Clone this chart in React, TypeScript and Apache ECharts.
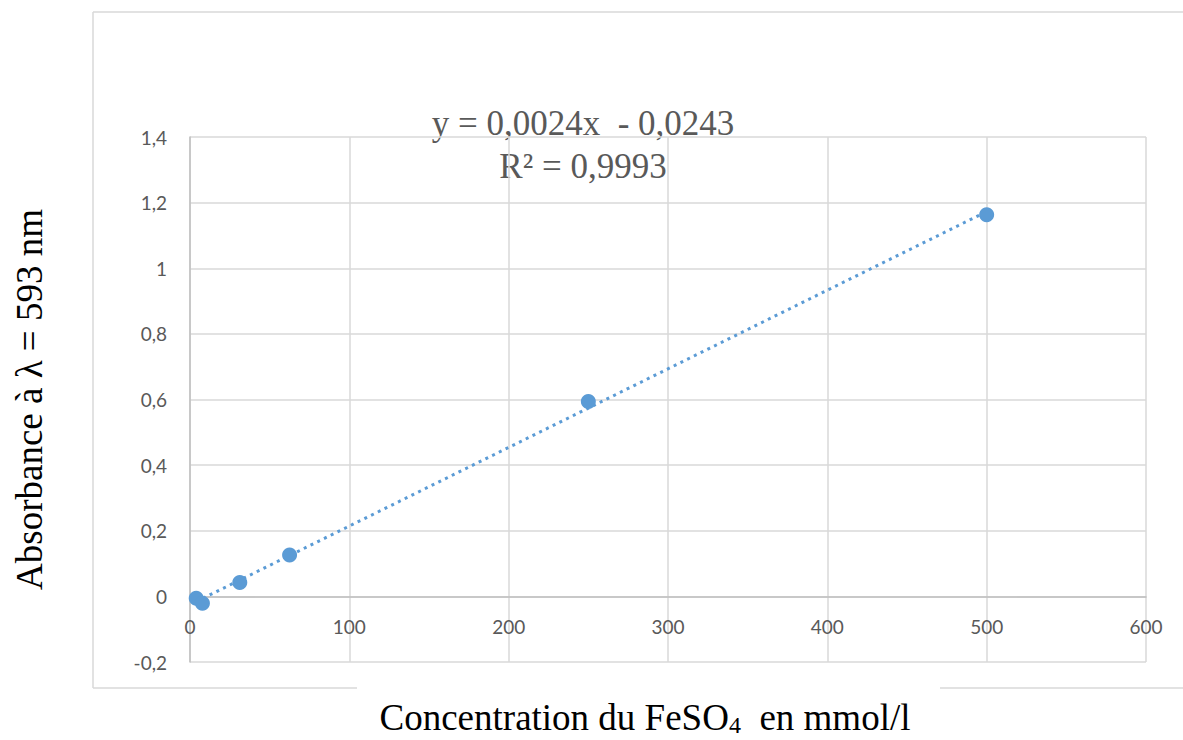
import React, { useEffect, useRef } from "react";
import * as echarts from "echarts";

// Concentration du FeSO4 (mmol/l)
const concentrations = [3.9, 7.8, 31.25, 62.5, 250, 500];
// Absorbance at 593 nm
const absorbances = [-0.006, -0.021, 0.042, 0.126, 0.594, 1.163];

const xTicks = { min: 0, max: 600, interval: 100 };
const yTicks = { min: -0.2, max: 1.4, interval: 0.2 };

const equationText = "y = 0,0024x  - 0,0243";
const r2Text = "R² = 0,9993";
const xTitle = "Concentration du FeSO";
const xTitleSub = "4";
const xTitleEnd = "  en mmol/l";
const yTitle = "Absorbance à λ = 593 nm";

function linearFit(xs: number[], ys: number[]) {
  const n = xs.length;
  const mx = xs.reduce((a, b) => a + b, 0) / n;
  const my = ys.reduce((a, b) => a + b, 0) / n;
  let sxy = 0;
  let sxx = 0;
  for (let i = 0; i < n; i++) {
    sxy += (xs[i] - mx) * (ys[i] - my);
    sxx += (xs[i] - mx) * (xs[i] - mx);
  }
  const slope = sxy / sxx;
  return { slope, intercept: my - slope * mx };
}

export default function App() {
  const ref = useRef<HTMLDivElement>(null);

  useEffect(() => {
    if (!ref.current) return;
    const chart = echarts.init(ref.current, undefined, { renderer: "svg" });
    const fit = linearFit(concentrations, absorbances);
    const xMin = Math.min(...concentrations);
    const xMax = Math.max(...concentrations);
    const trend = [
      [xMin, fit.intercept + fit.slope * xMin],
      [xMax, fit.intercept + fit.slope * xMax],
    ];
    const points = concentrations.map((c, i) => [c, absorbances[i]]);
    const grid = "#d9d9d9";
    const axis = "#bfbfbf";
    const serif = "'Liberation Serif', 'Times New Roman', serif";
    const tickFont = {
      color: "#595959",
      fontFamily: "Lato, 'Noto Sans', sans-serif",
      fontSize: 19,
    };
    const gridTop = 137;
    const gridBottom = 78;
    const plotHeight = 740 - gridTop - gridBottom;
    // shift the x axis up so that it crosses the y axis at 0
    const zeroOffset = (plotHeight * (0 - yTicks.min)) / (yTicks.max - yTicks.min);

    chart.setOption({
      animation: false,
      backgroundColor: "#ffffff",
      grid: { left: 190, right: 37, top: gridTop, bottom: gridBottom, containLabel: false },
      xAxis: {
        type: "value",
        min: xTicks.min,
        max: xTicks.max,
        interval: xTicks.interval,
        offset: -zeroOffset,
        axisLine: { show: true, onZero: false, lineStyle: { color: axis, width: 1.5 } },
        axisTick: { show: false },
        axisLabel: { ...tickFont, margin: 21 },
        splitLine: { show: true, lineStyle: { color: grid, width: 1.5 } },
      },
      yAxis: {
        type: "value",
        min: yTicks.min,
        max: yTicks.max,
        interval: yTicks.interval,
        axisLine: { show: true, onZero: false, lineStyle: { color: axis, width: 1.5 } },
        axisTick: { show: false },
        axisLabel: {
          ...tickFont,
          margin: 23,
          formatter: (v: number) => String(+v.toFixed(1)).replace(".", ","),
        },
        splitLine: { show: true, lineStyle: { color: grid, width: 1.5 } },
        name: yTitle,
        nameLocation: "middle",
        nameRotate: 90,
        nameGap: 161,
        nameTextStyle: {
          color: "#000000",
          fontFamily: serif,
          fontSize: 37,
          verticalAlign: "middle",
        },
      },
      graphic: [
        {
          type: "line",
          shape: { x1: 93, y1: 12, x2: 1183, y2: 12 },
          style: { stroke: grid, lineWidth: 1.5 },
          silent: true,
        },
        {
          type: "line",
          shape: { x1: 93, y1: 12, x2: 93, y2: 688 },
          style: { stroke: grid, lineWidth: 1.5 },
          silent: true,
        },
        {
          type: "line",
          shape: { x1: 93, y1: 688, x2: 357, y2: 688 },
          style: { stroke: grid, lineWidth: 1.5 },
          silent: true,
        },
        {
          type: "line",
          shape: { x1: 940, y1: 688, x2: 1183, y2: 688 },
          style: { stroke: grid, lineWidth: 1.5 },
          silent: true,
        },
        {
          type: "text",
          x: 583,
          y: 123,
          style: {
            text: equationText,
            fill: "#595959",
            font: `35px ${serif}`,
            align: "center",
            verticalAlign: "middle",
          },
        },
        {
          type: "text",
          x: 583,
          y: 166,
          style: {
            text: r2Text,
            fill: "#595959",
            font: `35px ${serif}`,
            align: "center",
            verticalAlign: "middle",
          },
        },
        {
          type: "text",
          x: 645,
          y: 717,
          style: {
            text: `{a|${xTitle}}{s|${xTitleSub}}{a|${xTitleEnd}}`,
            align: "center",
            verticalAlign: "middle",
            rich: {
              a: {
                fill: "#000000",
                fontFamily: serif,
                fontSize: 37,
                lineHeight: 36,
                verticalAlign: "middle",
              },
              s: {
                fill: "#000000",
                fontFamily: serif,
                fontSize: 24,
                lineHeight: 36,
                verticalAlign: "middle",
                padding: [16, 0, 0, 0],
              },
            },
          },
        },
      ],
      series: [
        {
          type: "line",
          data: trend,
          symbol: "none",
          silent: true,
          z: 1,
          lineStyle: { color: "#5b9bd5", width: 3, type: [3, 4.5], cap: "butt" },
        },
        {
          type: "scatter",
          data: points,
          symbol: "circle",
          symbolSize: 15,
          z: 2,
          itemStyle: { color: "#5b9bd5", opacity: 1 },
        },
      ],
    });
    return () => chart.dispose();
  }, []);

  return (
    <div
      ref={ref}
      style={{ position: "absolute", left: 0, top: 0, width: 1183, height: 740 }}
    />
  );
}
